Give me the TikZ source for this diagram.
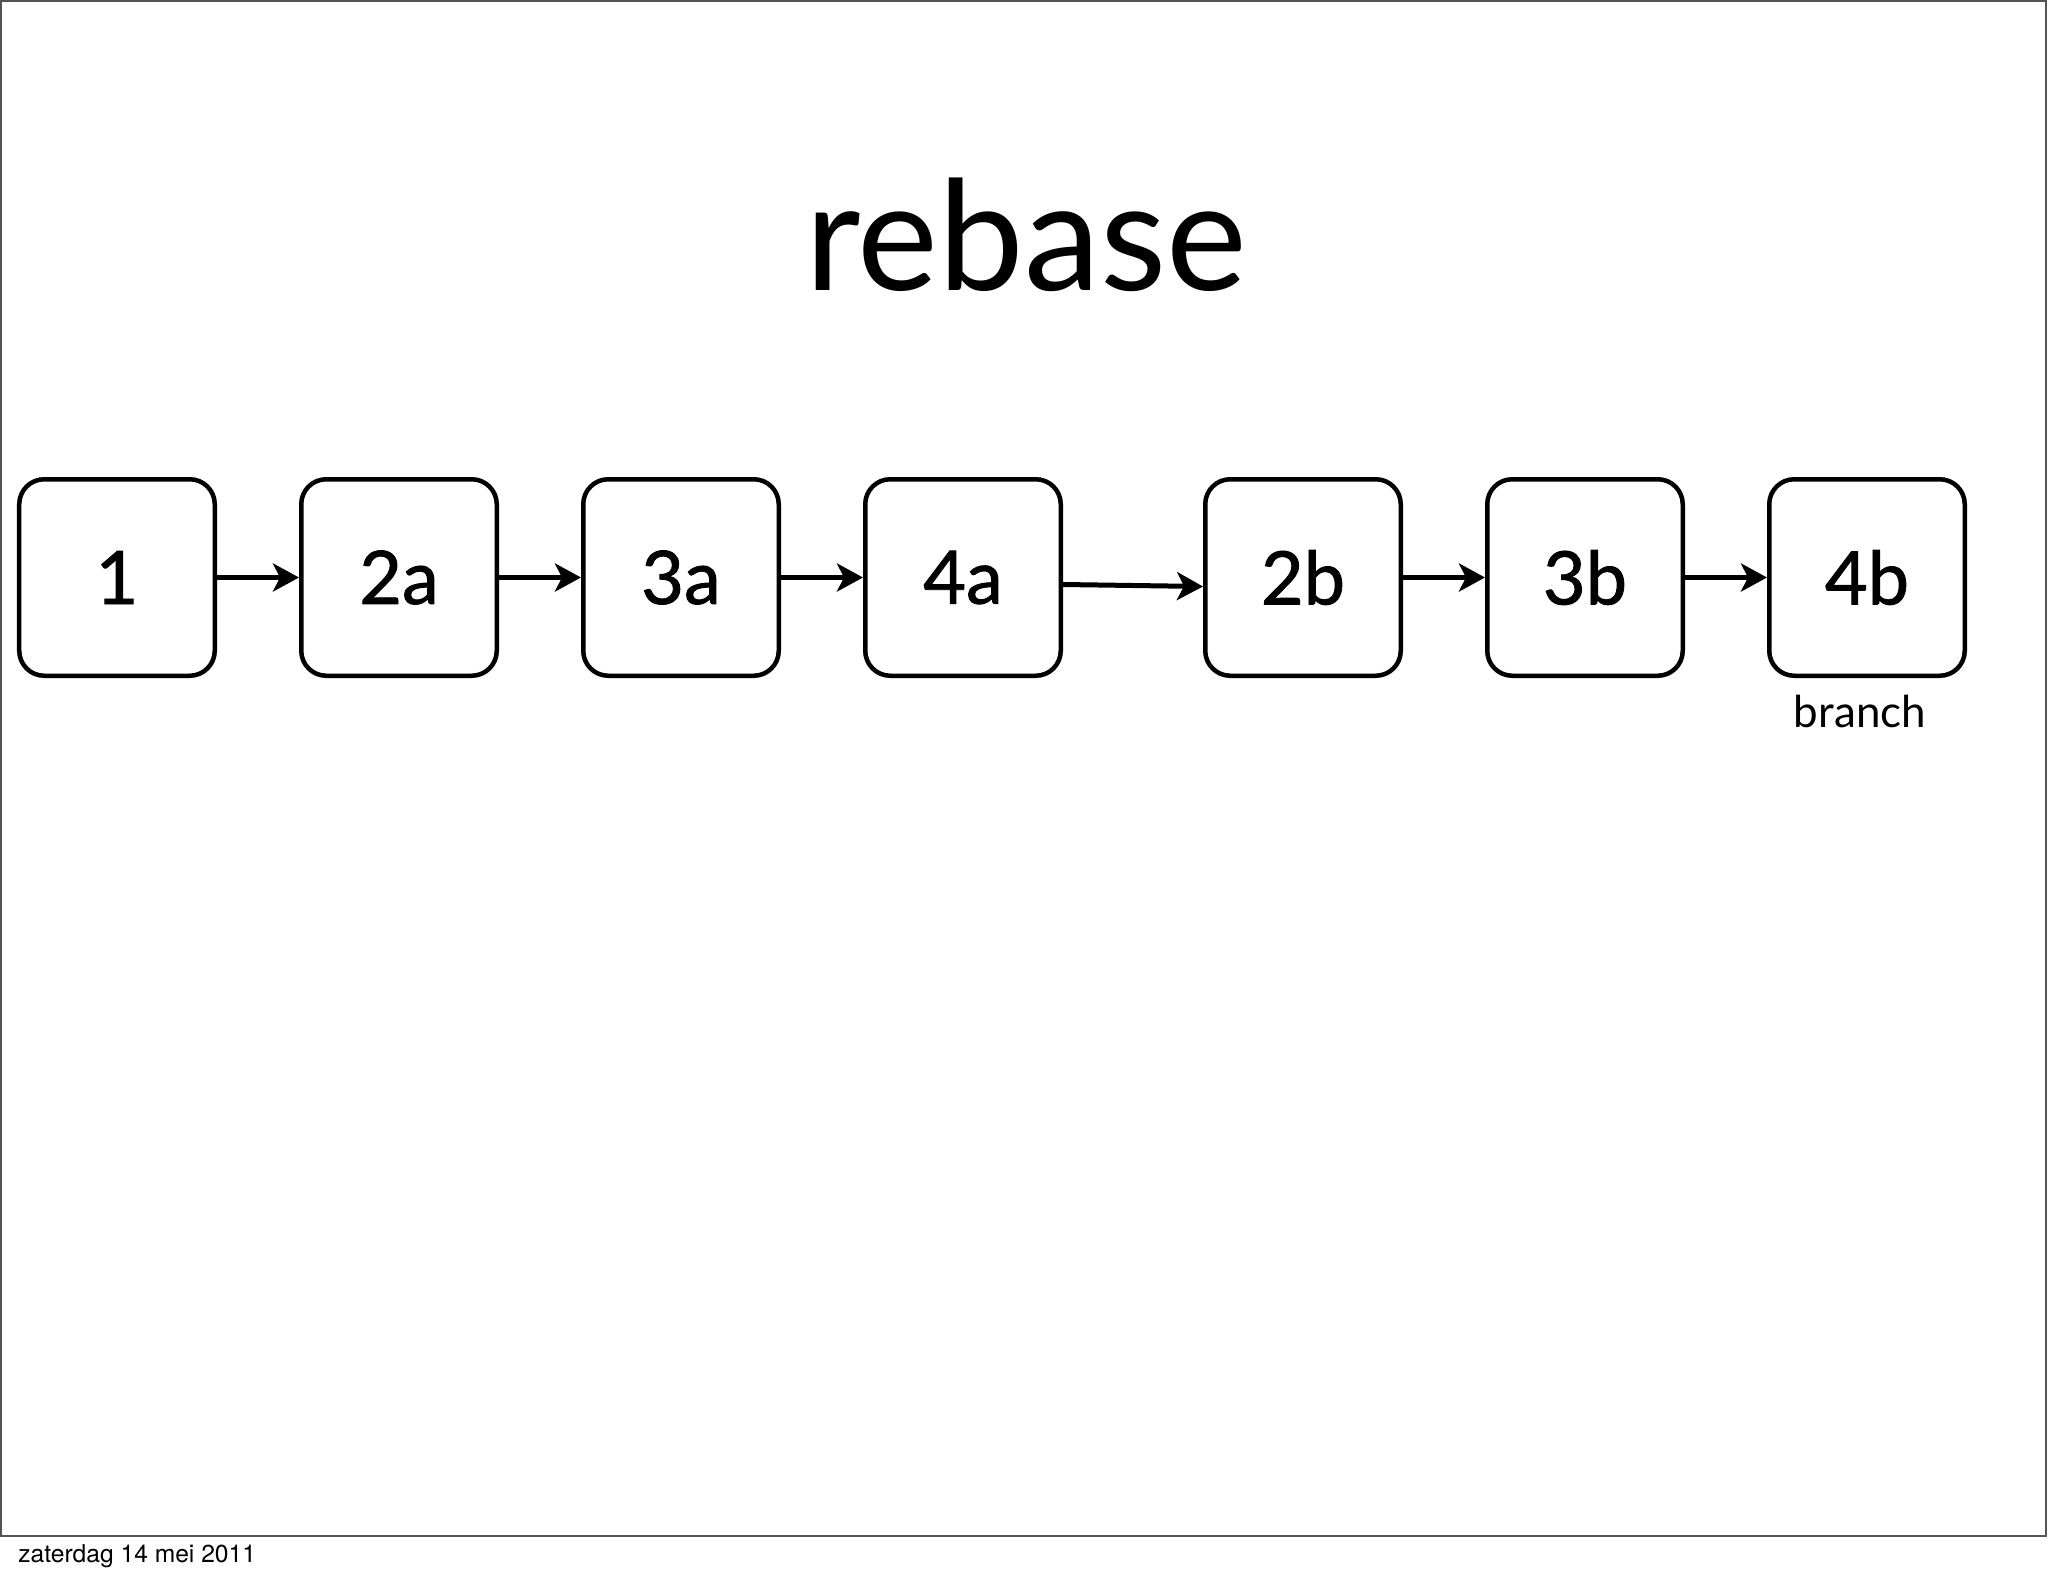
\documentclass[tikz,border=0pt]{standalone}
\usepackage{fontspec}
\setmainfont{Lato}
\newfontfamily\commitfont[FakeBold=1.2]{Lato}
\newfontfamily\datefont{TeX Gyre Heros}
\usetikzlibrary{arrows.meta}

\begin{document}
\begin{tikzpicture}

\useasboundingbox [fill=white] (0,0) rectangle (20.48,-15.76);

% Slide frame
\draw [draw=black!67, line width=0.02cm] (0.01,-0.01) rectangle (20.46,-15.36);

\node (Title) at (10.26,-2.90) [anchor=base] {\fontsize{43.5}{50}\selectfont rebase};

\begin{scope}[every node/.style={rectangle, rounded corners=0.25cm, draw, line width=0.045cm,
                                 minimum width=1.955cm, minimum height=1.965cm,
                                 font=\commitfont\fontsize{21}{25}\selectfont}]
    % Commits of the rebased line
    \node (C1) at (1.17,-5.775) {1};
    \node (C2a) at (3.99,-5.775) {2a};
    \node (C3a) at (6.81,-5.775) {3a};
    \node (C4a) at (9.63,-5.775) {4a};

    \node (C2b) at (13.03,-5.775) {2b};
    \node (C3b) at (15.85,-5.775) {3b};
    \node (C4b) at (18.67,-5.775) {4b};
\end{scope}

\node (Branch) at (18.60,-7.27) [anchor=base, font=\fontsize{12.5}{14}\selectfont] {branch};

\tikzset{CommitArrow/.style={-{Stealth[length=0.26cm, width=0.28cm, inset=0.07cm]}, line width=0.05cm}}

\begin{scope}
    \draw [CommitArrow] (C1) -- (C2a);
    \draw [CommitArrow] (C2a) -- (C3a);
    \draw [CommitArrow] (C3a) -- (C4a);
    \draw [CommitArrow] ([yshift=-0.07cm]C4a.east) -- ([yshift=-0.09cm]C2b.west);
    \draw [CommitArrow] (C2b) -- (C3b);
    \draw [CommitArrow] (C3b) -- (C4b);
\end{scope}

\node (Date) at (0.06,-15.62) [anchor=base west, font=\datefont\fontsize{7}{8}\selectfont] {zaterdag 14 mei 2011};

\end{tikzpicture}
\end{document}
